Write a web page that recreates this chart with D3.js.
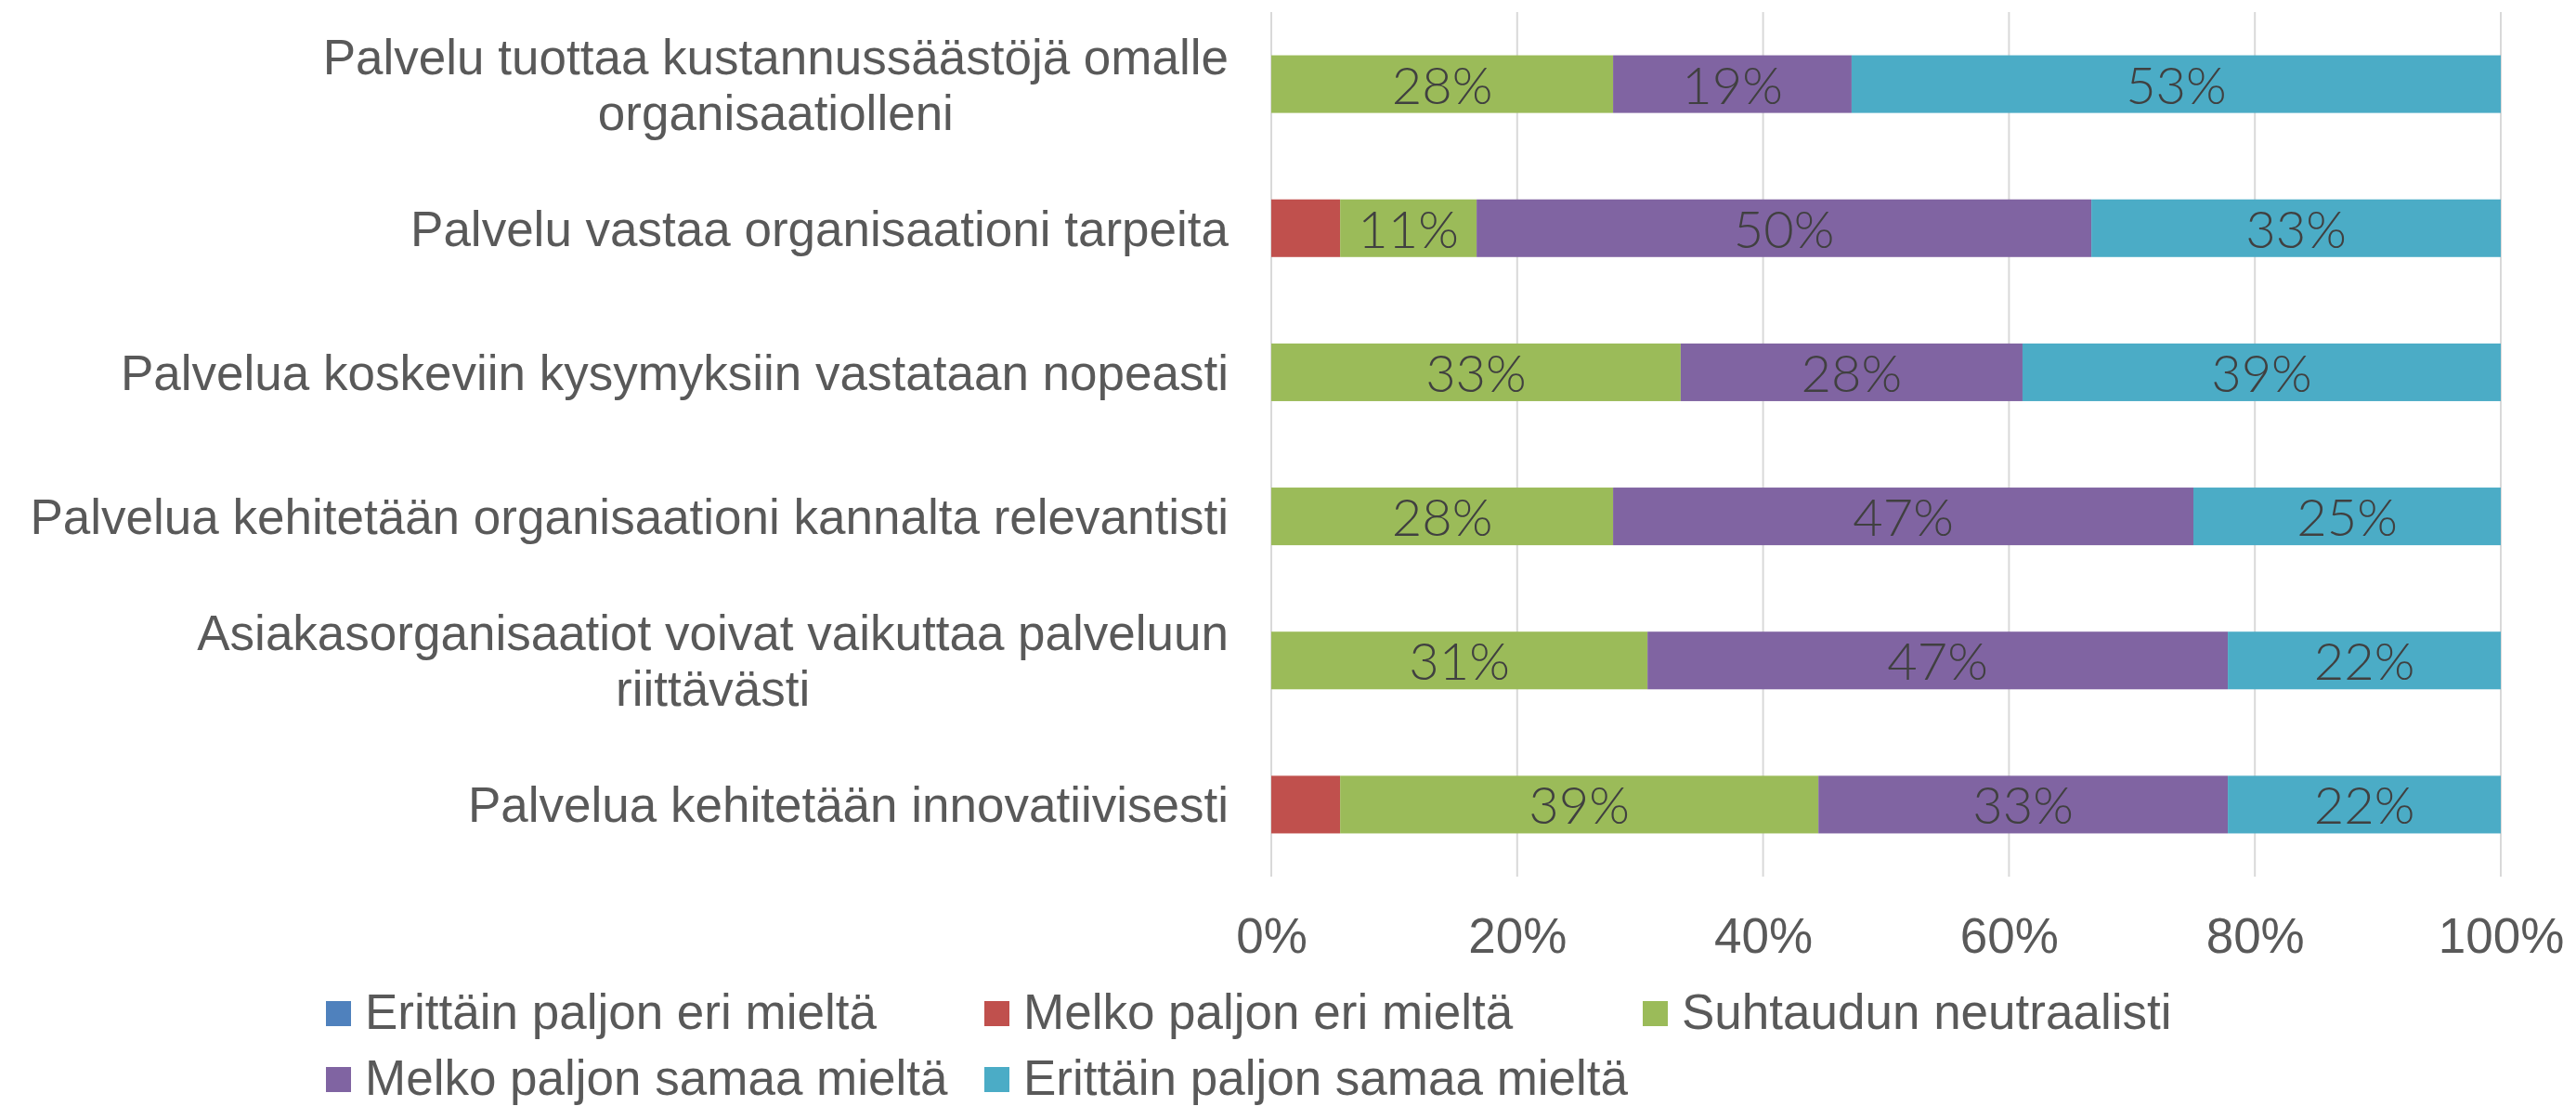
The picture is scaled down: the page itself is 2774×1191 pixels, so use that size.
<!DOCTYPE html>
<html><head><meta charset="utf-8">
<script src="https://cdn.jsdelivr.net/npm/d3@7"></script>
<style>
html,body{margin:0;padding:0;background:#fff;}
svg{display:block;}
</style></head>
<body>
<svg id="chart" width="2774" height="1191"></svg>
<script>
// ---- data ----
const categories = [
  ["Palvelu tuottaa kustannussäästöjä omalle", "organisaatiolleni"],
  ["Palvelu vastaa organisaationi tarpeita"],
  ["Palvelua koskeviin kysymyksiin vastataan nopeasti"],
  ["Palvelua kehitetään organisaationi kannalta relevantisti"],
  ["Asiakasorganisaatiot voivat vaikuttaa palveluun", "riittävästi"],
  ["Palvelua kehitetään innovatiivisesti"]
];
const seriesNames = ["Erittäin paljon eri mieltä","Melko paljon eri mieltä","Suhtaudun neutraalisti","Melko paljon samaa mieltä","Erittäin paljon samaa mieltä"];
const seriesColors = ["#4F81BD","#C0504D","#9BBB59","#8064A2","#4BACC6"];
const erittainEri = [0, 0, 0, 0, 0, 0];
const melkoEri    = [0, 5.6, 0, 0, 0, 5.6];
const neutraali   = [27.8, 11.1, 33.3, 27.8, 30.6, 38.9];
const melkoSamaa  = [19.4, 50.0, 27.8, 47.2, 47.2, 33.3];
const erittainSamaa = [52.8, 33.3, 38.9, 25.0, 22.2, 22.2];
const labelled = [false, false, true, true, true];
const tickValues = [0, 20, 40, 60, 80, 100];

const seriesValues = [erittainEri, melkoEri, neutraali, melkoSamaa, erittainSamaa];

// ---- layout ----
const svg = d3.select("#chart");
const x0 = 1369, x1 = 2693, yTop = 13, yBot = 944;
const x = d3.scaleLinear().domain([0,100]).range([x0,x1]);
const y = d3.scaleBand().domain(d3.range(categories.length)).range([yTop,yBot]).paddingInner(0.6).paddingOuter(0.3);

const FONT = "'Liberation Sans', Arial, sans-serif";
const TXT = "#595959";

// gridlines
svg.append("g").selectAll("line").data(tickValues).join("line")
  .attr("x1", d=>x(d)).attr("x2", d=>x(d))
  .attr("y1", yTop).attr("y2", yBot)
  .attr("stroke", "#D9D9D9").attr("stroke-width", 2);

// stacked data
const rows = categories.map((c,i)=>{ const o={i}; seriesValues.forEach((s,k)=>o[k]=s[i]); return o; });
const stack = d3.stack().keys(d3.range(seriesNames.length))(rows);

const gBars = svg.append("g");
stack.forEach((layer,k)=>{
  gBars.append("g").selectAll("rect").data(layer).join("rect")
    .attr("x", d=>x(d[0])).attr("width", d=>x(d[1])-x(d[0]))
    .attr("y", (d,i)=>y(i)).attr("height", y.bandwidth())
    .attr("fill", seriesColors[k]);
});
// data labels
stack.forEach((layer,k)=>{
  if(!labelled[k]) return;
  gBars.append("g").selectAll("text").data(layer.filter(d=>d[1]-d[0]>0)).join("text")
    .attr("x", d=>x((d[0]+d[1])/2))
    .attr("y", d=>y(d.data.i)+y.bandwidth()/2+21)
    .attr("text-anchor","middle")
    .attr("font-family","Lato, 'Open Sans', sans-serif")
    .attr("font-weight",300)
    .attr("font-size",56)
    .attr("fill","#404040")
    .text(d=>Math.round(d[1]-d[0])+"%");
});

// x axis tick labels
const xAxis = d3.axisBottom(x).tickValues(tickValues).tickFormat(d=>d+"%").tickSize(0).tickPadding(0);
const gx = svg.append("g").attr("transform",`translate(0,${yBot})`).call(xAxis);
gx.select(".domain").remove();
gx.selectAll("text").attr("font-family",FONT).attr("font-size",53).attr("fill",TXT)
  .attr("dy",null).attr("y",82);

// category labels (multi-line centred block, right-aligned to the axis)
const labelRight = 1323;
const gCat = svg.append("g").attr("font-family",FONT).attr("font-size",53).attr("fill",TXT);
categories.forEach((lines,i)=>{
  const cy = y(i)+y.bandwidth()/2;
  const t = gCat.append("text").attr("text-anchor","middle");
  const spans = lines.map((ln,j)=>
    t.append("tspan").attr("x",0).attr("y", cy + 19 + (j-(lines.length-1)/2)*60).text(ln));
  const w = d3.max(spans, s=>s.node().getComputedTextLength());
  spans.forEach(s=>s.attr("x", labelRight - w/2));
});

// legend
const legX = 351, colW = 709, perRow = 3;
const legRowsY = [1108, 1179];
const gLeg = svg.append("g").attr("font-family",FONT).attr("font-size",53).attr("fill",TXT);
seriesNames.forEach((n,k)=>{
  const r = Math.floor(k/perRow), c = k%perRow;
  const lx = legX + c*colW, by = legRowsY[r];
  gLeg.append("rect").attr("x",lx).attr("y",by-30).attr("width",27).attr("height",27).attr("fill",seriesColors[k]);
  gLeg.append("text").attr("x",lx+42).attr("y",by).text(n);
});
</script>
</body></html>
